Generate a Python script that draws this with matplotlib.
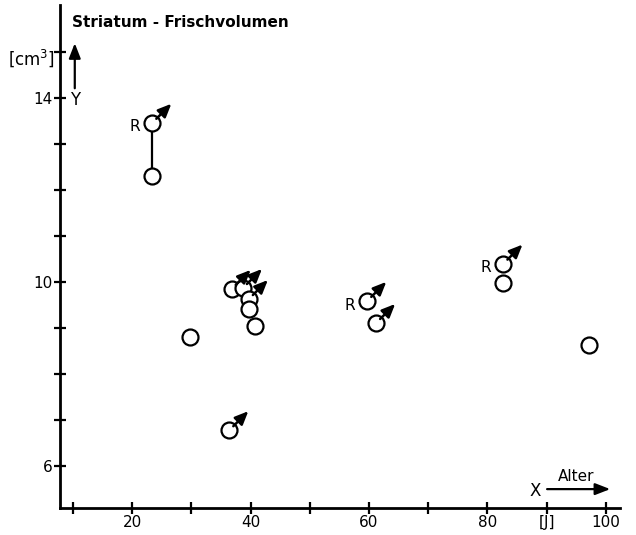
import matplotlib.pyplot as plt
from matplotlib.transforms import offset_copy

# Alter [J] und Striatum-Frischvolumen [cm3]
alter = [23.4, 23.4, 29.7, 36.8, 38.7, 39.7, 39.7, 40.7, 36.4, 59.7, 61.2, 82.7, 82.7, 97.1]
volumen = [13.46, 12.3, 8.8, 9.85, 9.87, 9.63, 9.41, 9.04, 6.78, 9.59, 9.11, 10.4, 9.98, 8.63]
maennlich = [True, False, False, True, True, True, False, False, True, True, True, True, False, False]
rechts = [True, False, False, False, False, False, False, False, False, True, False, True, False, False]
# Messungen am selben Gehirn (Index-Paare)
paare = [(0, 1)]

fig = plt.figure(figsize=(6.36, 5.35), dpi=100)
ax = fig.add_axes([0.0943, 0.0505, 0.8807, 0.9402])
ax.set_xlim(7.8, 102.4)
ax.set_ylim(5.09, 16.02)

for s in ["top", "right"]:
    ax.spines[s].set_visible(False)
for s in ["left", "bottom"]:
    ax.spines[s].set_linewidth(2)

ax.set_xticks([20, 40, 60, 80, 100])
ax.set_xticks([10, 30, 50, 70, 90], minor=True)
ax.set_yticks([6, 10, 14])
ax.set_yticks([7, 8, 9, 11, 12, 13, 15], minor=True)
ax.tick_params(which="both", direction="inout", length=8, width=1.6, labelsize=11, pad=1)

for i, j in paare:
    ax.plot([alter[i], alter[j]], [volumen[i], volumen[j]], color="black", lw=1.6, zorder=2)

ax.plot(alter, volumen, "o", ms=11.5, mfc="white", mec="black", mew=1.6, ls="none", zorder=3)

# Pfeil fuer maennlich, R fuer rechte Hemisphaere
fuss = offset_copy(ax.transData, fig=fig, x=4, y=4, units="dots")
spitze = offset_copy(ax.transData, fig=fig, x=19, y=19, units="dots")
for x, y, m, r in zip(alter, volumen, maennlich, rechts):
    if m:
        ax.annotate("", xy=(x, y), xycoords=spitze, xytext=(x, y), textcoords=fuss,
                    arrowprops=dict(arrowstyle="-|>,head_length=0.8,head_width=0.35",
                                    color="black", lw=1.8, shrinkA=0, shrinkB=0),
                    zorder=4)
    if r:
        ax.annotate("R", xy=(x, y), xytext=(-9, -3), textcoords="offset points",
                    ha="right", va="center", fontsize=11, zorder=4)

ax.text(9.8, 15.65, "Striatum - Frischvolumen", fontsize=11, fontweight="bold",
        va="center", ha="left")
ax.text(7.0, 14.87, "[cm$^3$]", fontsize=12, va="center", ha="right", clip_on=False)
ax.annotate("", xy=(10.3, 15.25), xytext=(10.3, 14.15),
            arrowprops=dict(arrowstyle="-|>,head_length=0.9,head_width=0.35", color="black", lw=1.6))
ax.text(10.3, 13.95, "Y", fontsize=12, ha="center", va="center")

ax.text(88.0, 5.45, "X", fontsize=12, ha="center", va="center")
ax.annotate("", xy=(101.2, 5.5), xytext=(89.6, 5.5),
            arrowprops=dict(arrowstyle="-|>,head_length=0.9,head_width=0.35", color="black", lw=1.6))
ax.text(95.0, 5.78, "Alter", fontsize=11, ha="center", va="center")
ax.text(90.0, 4.78, "[J]", fontsize=11, ha="center", va="center", clip_on=False)

fig.savefig("out.png", dpi=100)
